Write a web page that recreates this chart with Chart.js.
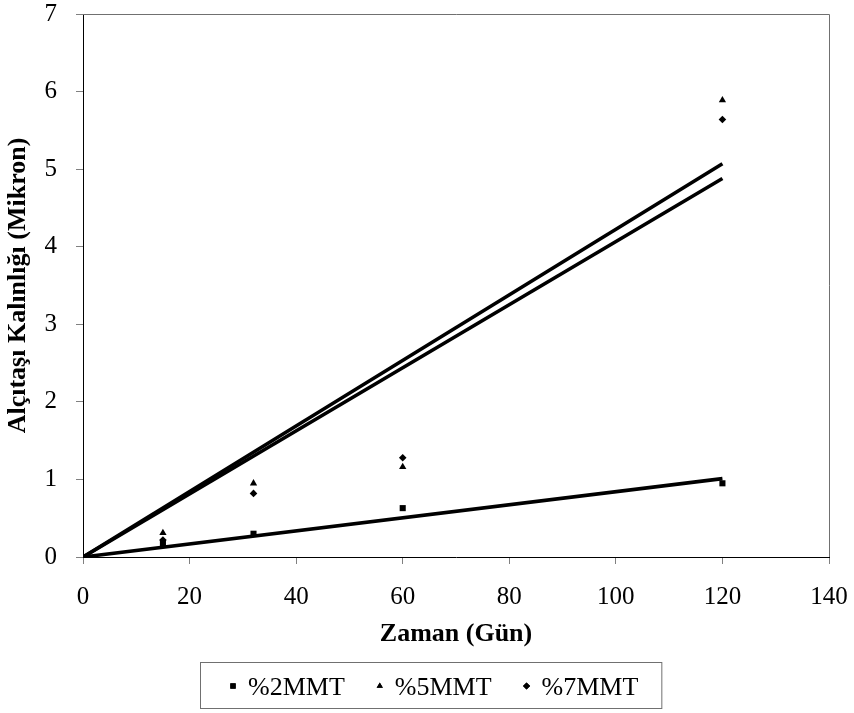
<!DOCTYPE html>
<html>
<head>
<meta charset="utf-8">
<script src="https://cdn.jsdelivr.net/npm/chart.js@4.4.1/dist/chart.umd.min.js"></script>
<style>
  html, body { margin: 0; padding: 0; background: #ffffff; }
  #wrap { width: 854px; height: 713px; }
</style>
</head>
<body>
<div id="wrap"><canvas id="c" width="854" height="713"></canvas></div>
<script>
// Measurement days
const days = [0, 15, 32, 60, 120];

// Gypsum layer thickness (micron) per MMT content
const mmt2 = [0, 0.18, 0.30, 0.63, 0.95];
const mmt5 = [0, 0.31, 0.95, 1.16, 5.89];
const mmt7 = [0, 0.22, 0.82, 1.28, 5.64];

// Linear trend lines (through origin), start and end values
const trendX = [0, 120];
const trend2 = [0, 1.01];
const trend5 = [0, 5.07];
const trend7 = [0, 4.88];

const seriesNames = ['%2MMT', '%5MMT', '%7MMT'];
const seriesStyles = ['rect', 'triangle', 'rectRot'];

const xTicks = [0, 20, 40, 60, 80, 100, 120, 140];
const yTicks = [0, 1, 2, 3, 4, 5, 6, 7];

const FONT = '"Liberation Serif", "Times New Roman", serif';

function pts(xs, ys) { return xs.map((x, i) => ({ x: x, y: ys[i] })); }

function markerSet(label, data, style, radius) {
  return {
    type: 'scatter', label: label, data: pts(days, data),
    pointStyle: style, pointRadius: radius, pointHoverRadius: radius,
    backgroundColor: '#000', borderColor: '#000', borderWidth: 0, order: 1
  };
}
function trendSet(data) {
  return {
    type: 'line', data: pts(trendX, data), borderColor: '#000',
    borderWidth: 3.6, pointRadius: 0, fill: false, tension: 0, order: 2
  };
}

// Plot frame (top/right) and boxed legend
const framePlugin = {
  id: 'frameAndLegend',
  afterDraw(chart) {
    const ctx = chart.ctx;
    const a = chart.chartArea;
    ctx.save();
    ctx.strokeStyle = '#707070';
    ctx.lineWidth = 1;
    ctx.beginPath();
    ctx.moveTo(a.left, a.top + 0.5);
    ctx.lineTo(a.right + 0.5, a.top + 0.5);
    ctx.lineTo(a.right + 0.5, a.bottom);
    ctx.stroke();

    // legend
    ctx.font = '26px ' + FONT;
    ctx.textBaseline = 'alphabetic';
    ctx.textAlign = 'left';
    const markerGap = 15, itemGap = 35;
    let widths = seriesNames.map(n => ctx.measureText(n).width);
    let total = 0;
    widths.forEach((w, i) => { total += markerGap + w + (i < widths.length - 1 ? itemGap : 0); });
    const cy = 686;
    let x = 233;
    const boxLeft = x - 33, boxRight = x - 3 + total + 26;
    ctx.strokeStyle = '#707070';
    ctx.strokeRect(boxLeft + 0.5, 662.5, boxRight - boxLeft, 46);
    ctx.fillStyle = '#000';
    seriesNames.forEach((n, i) => {
      Chart.helpers.drawPoint(ctx, {
        pointStyle: seriesStyles[i], radius: i === 0 ? 3.8 : 3.6, rotation: 0, borderWidth: 0
      }, x, cy);
      ctx.fillStyle = '#000';
      ctx.fill();
      ctx.fillText(n, x + markerGap, 695);
      x += markerGap + widths[i] + itemGap;
    });
    ctx.restore();
  }
};

new Chart(document.getElementById('c'), {
  data: {
    datasets: [
      markerSet(seriesNames[0], mmt2, seriesStyles[0], 4.3),
      markerSet(seriesNames[1], mmt5, seriesStyles[1], 4.2),
      markerSet(seriesNames[2], mmt7, seriesStyles[2], 3.8),
      trendSet(trend2),
      trendSet(trend5),
      trendSet(trend7)
    ]
  },
  options: {
    responsive: false,
    animation: false,
    events: [],
    layout: { padding: { top: 14, right: 25, bottom: 61, left: 0 } },
    plugins: { legend: { display: false }, tooltip: { enabled: false } },
    scales: {
      x: {
        type: 'linear', min: 0, max: 140,
        afterBuildTicks(s) { s.ticks = xTicks.map(v => ({ value: v })); },
        afterFit(s) { s.height = 95; s.paddingLeft = 0; s.paddingRight = 0; },
        grid: { drawOnChartArea: false, drawTicks: true, tickLength: 7, color: '#808080' },
        border: { color: '#000', width: 1 },
        ticks: { color: '#000', padding: 18, maxRotation: 0, font: { family: FONT, size: 25 } },
        title: { display: true, text: 'Zaman (Gün)', color: '#000', padding: { top: 0, bottom: 2 },
          font: { family: FONT, size: 26, weight: 'bold' } }
      },
      y: {
        type: 'linear', min: 0, max: 7,
        afterBuildTicks(s) { s.ticks = yTicks.map(v => ({ value: v })); },
        afterFit(s) { s.width = 83; s.paddingTop = 0; s.paddingBottom = 0; },
        grid: { drawOnChartArea: false, drawTicks: true, tickLength: 7, color: '#808080' },
        border: { color: '#000', width: 1 },
        ticks: { color: '#000', padding: 19, font: { family: FONT, size: 25 } },
        title: { display: true, text: 'Alçıtaşı Kalınlığı (Mikron)', color: '#000', padding: { top: 3, bottom: 0 },
          font: { family: FONT, size: 26, weight: 'bold' } }
      }
    }
  },
  plugins: [framePlugin]
});
</script>
</body>
</html>
